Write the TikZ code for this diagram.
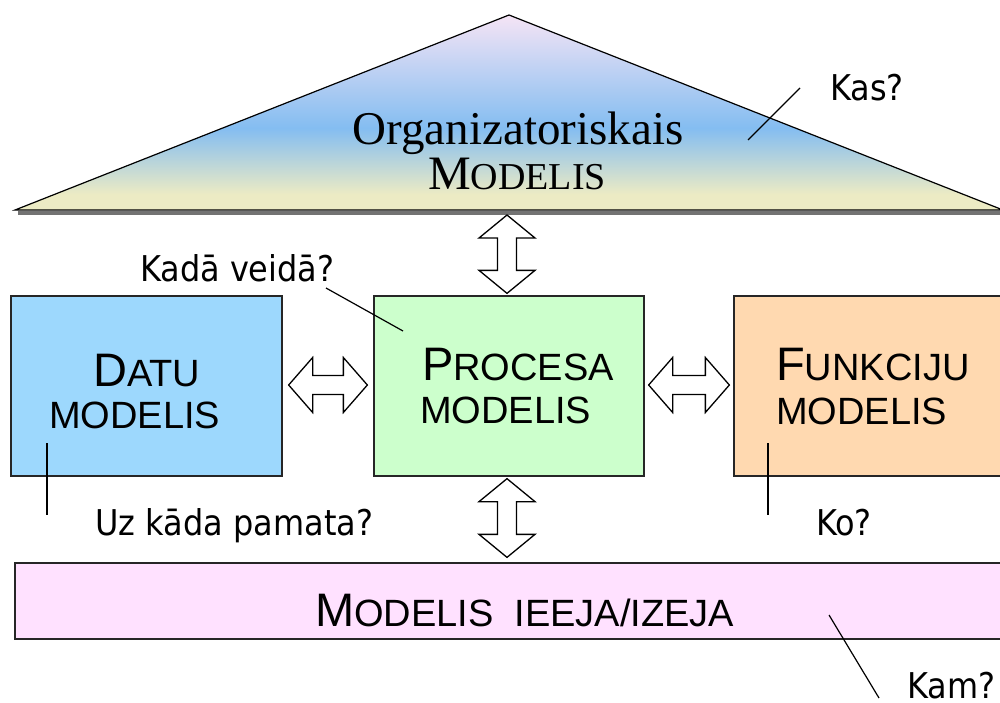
\documentclass[tikz,border=0pt]{standalone}
\usepackage{fontspec}
\setmainfont{Liberation Serif}
\setsansfont{Liberation Sans}
\newfontfamily\labelfont{DejaVu Sans Condensed}
\usetikzlibrary{calc}

\definecolor{datafill}{HTML}{9DD8FD}
\definecolor{procfill}{HTML}{CCFFCC}
\definecolor{funcfill}{HTML}{FFD9B0}
\definecolor{iofill}{HTML}{FFE1FF}
\definecolor{tripink}{HTML}{F5E4F5}
\definecolor{triblue}{HTML}{84BDF1}
\definecolor{triyellow}{HTML}{ECEBC4}

\pgfdeclareverticalshading{orgshade}{100bp}{color(0bp)=(triyellow); color(29bp)=(triyellow); color(46bp)=(triblue); color(75bp)=(tripink); color(100bp)=(tripink)}

% large initial capital followed by reduced capitals
\newcommand\capA[1]{{\fontsize{47}{48}\selectfont #1}}
\newcommand\capB[1]{{\fontsize{38}{40}\selectfont #1}}

% vertical double block arrow between two points (top tip, bottom tip)
\newcommand\vblockarrow[2]{%
  \draw[blockarrow] let \p1=(#1), \p2=(#2) in
    (\x1,\y1) -- (\x1+28pt,\y1-23pt) -- (\x1+9.5pt,\y1-23pt) -- (\x1+9.5pt,\y2+23pt)
    -- (\x1+28pt,\y2+23pt) -- (\x1,\y2) -- (\x1-28pt,\y2+23pt) -- (\x1-9.5pt,\y2+23pt)
    -- (\x1-9.5pt,\y1-23pt) -- (\x1-28pt,\y1-23pt) -- cycle;}
% horizontal double block arrow between two points (left tip, right tip)
\newcommand\hblockarrow[2]{%
  \draw[blockarrow] let \p1=(#1), \p2=(#2) in
    (\x1,\y1) -- (\x1+24pt,\y1+27.5pt) -- (\x1+24pt,\y1+9.5pt) -- (\x2-24pt,\y1+9.5pt)
    -- (\x2-24pt,\y1+27.5pt) -- (\x2,\y1) -- (\x2-24pt,\y1-27.5pt) -- (\x2-24pt,\y1-9.5pt)
    -- (\x1+24pt,\y1-9.5pt) -- (\x1+24pt,\y1-27.5pt) -- cycle;}

\tikzset{
  modelbox/.style={draw=black!85, line width=1.3pt, rectangle, inner sep=0pt},
  boxtext/.style={font=\sffamily, inner sep=0pt, anchor=base west},
  blockarrow/.style={draw=black, fill=white, line width=1.3pt, line join=miter},
  question/.style={font=\labelfont\fontsize{35.5}{38}\selectfont, inner sep=0pt, anchor=base west},
  leader/.style={draw=black, line width=1.2pt},
}

\begin{document}
\begin{tikzpicture}[x=1pt,y=-1pt]
\useasboundingbox[fill=white] (0,0) rectangle (1000,702);

% organisational model: shaded triangle with a shadow under its base
\coordinate (apex) at (509,15);
\coordinate (baseL) at (15,210);
\coordinate (baseR) at (1003,210);
\coordinate (tribase) at (509,210);
\draw[line width=4pt, black!55] ($(baseL)+(3,3)$) -- ($(baseR)+(0,3)$);
\shade[shading=orgshade] (apex) -- (baseR) -- (baseL) -- cycle;
\draw[line width=1.2pt, line join=miter] (apex) -- (baseR) -- (baseL) -- cycle;
\node[font=\fontsize{47}{50}\selectfont, inner sep=0pt, anchor=base] (orgtitle) at (518,144) {Organizatoriskais};
\node[inner sep=0pt, anchor=base] (orgsub) at (517,189) {\fontsize{48}{50}\selectfont M\fontsize{38}{40}\selectfont ODELIS};

% the three model boxes
\node[modelbox, fill=datafill, minimum width=271, minimum height=180] (data) at (146.5,386) {};
\node[modelbox, fill=procfill, minimum width=270, minimum height=180] (proc) at (509,386) {};
\node[modelbox, fill=funcfill, minimum width=276, minimum height=180] (func) at (872,386) {};
\node[boxtext] (datat1) at (93,386) {\capA{D}\capB{ATU}};
\node[boxtext] (datat2) at (49,428) {\capB{MODELIS}};
\node[boxtext] (proct1) at (422,380) {\capA{P}\capB{ROCESA}};
\node[boxtext] (proct2) at (420,423) {\capB{MODELIS}};
\node[boxtext] (funct1) at (776,380) {\capA{F}\capB{UNKCIJU}};
\node[boxtext] (funct2) at (776,424) {\capB{MODELIS}};

% input / output bar
\node[modelbox, fill=iofill, minimum width=1029, minimum height=76] (io) at (529.5,601) {};
\node[font=\sffamily, inner sep=0pt, anchor=base west] (iot) at (315,626)
  {{\fontsize{47}{48}\selectfont M}{\fontsize{38}{40}\selectfont ODELIS\hspace{0.55em}IEEJA/IZEJA}};

% double block arrows
\coordinate (a1t) at ($(tribase -| proc.north)+(-2,5)$);
\coordinate (a1b) at ($(proc.north)+(-2,-2)$);
\vblockarrow{a1t}{a1b}
\coordinate (a2t) at ($(proc.south)+(-2,2)$);
\coordinate (a2b) at ($(io.north -| proc.south)+(-2,-5)$);
\vblockarrow{a2t}{a2b}
\coordinate (a3l) at ($(data.east)+(6,-1)$);
\coordinate (a3r) at ($(proc.west)+(-6,-1)$);
\hblockarrow{a3l}{a3r}
\coordinate (a4l) at ($(proc.east)+(4,-1)$);
\coordinate (a4r) at ($(func.west)+(-4,-1)$);
\hblockarrow{a4l}{a4r}

% question labels with their leader lines
\node[question] (qkas) at (830,100) {Kas?};
\coordinate (kasA) at (800,88);
\coordinate (kasB) at (748,140);
\draw[leader] (kasA) -- (kasB);

\node[question] (qkada) at (140,281) {Kadā veidā?};
\coordinate (kadaA) at (326,288);
\coordinate (kadaB) at (403,331);
\draw[leader] (kadaA) -- (kadaB);

\node[question] (quz) at (95,535) {Uz kāda pamata?};
\coordinate (uzA) at (47,443);
\coordinate (uzB) at (47,515);
\draw[leader] (uzA) -- (uzB);

\node[question] (qko) at (816,535) {Ko?};
\coordinate (koA) at (768,443);
\coordinate (koB) at (768,515);
\draw[leader] (koA) -- (koB);

\node[question] (qkam) at (907,698) {Kam?};
\coordinate (kamA) at (829,615);
\coordinate (kamB) at (879,698);
\draw[leader] (kamA) -- (kamB);
\end{tikzpicture}
\end{document}
